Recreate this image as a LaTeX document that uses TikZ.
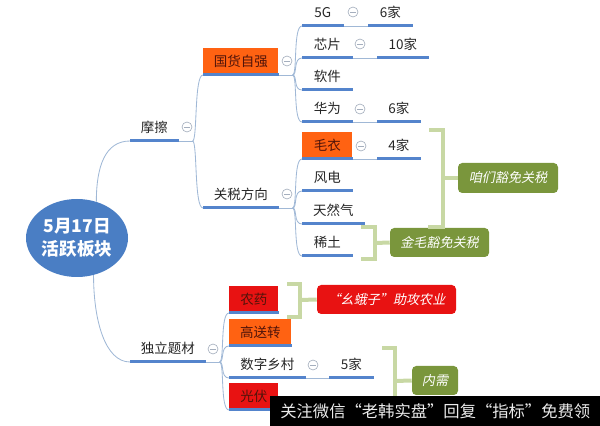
\documentclass[tikz,border=0pt]{standalone}
\usepackage{fontspec}
\setmainfont{Noto Sans CJK SC}
\newfontfamily\cjkit[FakeSlant=0.2]{Noto Sans CJK SC}
\usepackage{tikz}
\usetikzlibrary{calc,shapes.geometric}
\newcommand\pxu{0.025cm}
\definecolor{linkc}{RGB}{160,184,214}
\definecolor{ulc}{RGB}{84,132,204}
\definecolor{rootc}{RGB}{74,126,196}
\definecolor{orgc}{RGB}{255,98,18}
\definecolor{redc}{RGB}{232,18,18}
\definecolor{olvc}{RGB}{122,150,60}
\definecolor{brkc}{RGB}{200,216,164}
\definecolor{foldc}{RGB}{165,175,190}
\definecolor{boxtxt}{RGB}{80,20,10}
\tikzset{
  root/.style={ellipse, fill=rootc, text=white, align=center, inner sep=0pt,
    minimum width=102*\pxu, minimum height=78*\pxu, font=\fontsize{12.5}{16.4}\selectfont\bfseries},
  topic/.style={anchor=south west, inner sep=0pt, minimum width=#1*\pxu, minimum height=26*\pxu,
    text=black!85, font=\fontsize{9.6}{11}\selectfont},
  uline/.style={draw=ulc, line width=3*\pxu},
  link/.style={draw=linkc, line width=0.6pt},
  fold/.style={circle, draw=foldc, line width=0.45pt, fill=white, inner sep=0pt, minimum size=10*\pxu,
    path picture={\draw[foldc, line width=0.5pt] ([xshift=-2.6*\pxu]path picture bounding box.center)
      -- ([xshift=2.6*\pxu]path picture bounding box.center);}},
  callout/.style={rounded corners=3pt, inner sep=0pt, text=white, font=\cjkit\fontsize{9.3}{11}\selectfont},
  brk/.style={draw=brkc, line width=4*\pxu},
  wmark/.style={fill=black, text=black!8, inner sep=0pt, anchor=north west,
    minimum width=330*\pxu, minimum height=30*\pxu, font=\fontsize{11.6}{13}\selectfont}}

\begin{document}
\begin{tikzpicture}[x=\pxu, y=-\pxu]
  \useasboundingbox (0,0) rectangle (600,426);
  \node[root] (root) at (77,238) {5月17日\\活跃板块};
  % main topics
  \node[topic=48] (mc) at (130,141) {摩擦};
  \node[topic=75] (gs) at (203,208) {关税方向};
  \node[topic=75] (dl) at (130,362) {独立题材};
  \foreach \nm/\x/\y/\w/\txt in {g5/302/26/41/5G, n6a/368/26/44/6家, xp/302/58/50/芯片, n10/377/58/51/10家,
      rj/302/90/50/软件, hw/302/122/50/华为, n6b/377/122/43/6家, n4/377/159/43/4家, fd/302/191/50/风电,
      trq/302/224/62/天然气, xt/302/256/50/稀土, sz/229/378/76/数字乡村, n5/329/378/44/5家}
    \node[topic=\w] (\nm) at (\x,\y) {\txt};
  \foreach \nm/\x/\y/\w/\c/\txt in {gh/203/75/75/orgc/国货自强, my/302/159/50/orgc/毛衣,
      ny/229/313/49/redc/农药, gsz/229/346/62/orgc/高送转, gf/229/410/49/redc/光伏}
    \node[topic=\w, fill=\c, text=boxtxt, minimum height=27*\pxu] (\nm) at (\x,\y) {\txt};
  \foreach \n in {mc,gh,gs,dl,g5,n6a,xp,n10,rj,hw,n6b,my,n4,fd,trq,xt,ny,gsz,sz,n5,gf}
    \draw[uline] (\n.south west) -- (\n.south east);

  % links
  \draw[link] (root.62) .. controls +(0,-35) and +(-25,0) .. (mc.south west);
  \draw[link] (root.-66) .. controls +(0,45) and +(-25,0) .. (dl.south west);
  \coordinate (b1) at ($(mc.south east)+(14,0)$);
  \coordinate (b2) at ($(gh.south east)+(14,0)$);
  \coordinate (b3) at ($(gs.south east)+(14,0)$);
  \coordinate (b4) at ($(dl.south east)+(14,0)$);
  \draw[link] (mc.south east) -- (b1);
  \draw[link] (gh.south east) -- (b2);
  \draw[link] (gs.south east) -- (b3);
  \draw[link] (dl.south east) -- (b4);
  \foreach \c in {gh,gs} \draw[link] (b1) .. controls +(5,0) and +(-9,0) .. (\c.south west);
  \foreach \c in {g5,xp,rj,hw} \draw[link] (b2) .. controls +(5,0) and +(-9,0) .. (\c.south west);
  \foreach \c in {my,fd,trq,xt} \draw[link] (b3) .. controls +(5,0) and +(-9,0) .. (\c.south west);
  \foreach \c in {ny,gsz,sz,gf} \draw[link] (b4) .. controls +(5,0) and +(-9,0) .. (\c.south west);
  \foreach \a/\b in {g5/n6a, xp/n10, hw/n6b, my/n4, sz/n5}
    \draw[link] (\a.south east) -- (\b.south west);

  % fold markers
  \foreach \nm/\x/\y in {f1/187/127, f2/287/61, f3/287/194, f4/353/12, f5/360/44,
      f6/360/109, f7/361/146, f8/213/349, f9/313/365}
    \node[fold] (\nm) at (\x,\y) {};

  % summaries
  \node[callout, fill=olvc, minimum width=100*\pxu, minimum height=30*\pxu] (zm) at (508,178) {咱们豁免关税};
  \node[callout, fill=olvc, minimum width=99*\pxu, minimum height=29*\pxu] (jm) at (439.5,242.5) {金毛豁免关税};
  \node[callout, fill=redc, minimum width=139*\pxu, minimum height=29*\pxu] (ye) at (386.5,299.5) {“幺蛾子”助攻农业};
  \node[callout, fill=olvc, minimum width=46*\pxu, minimum height=29*\pxu] (nx) at (435,380.5) {内需};
  \draw[brk] (429,130) -| (443,227) -- (428,227);
  \draw[brk] (361,227) -| (375,259) -- (361,259);
  \draw[brk] (287,284) -| (300,317) -- (287,317);
  \draw[brk] (382,348) -| (395,420);
  \coordinate (k1) at (443,178);
  \coordinate (k2) at (375,243);
  \coordinate (k3) at (300,300);
  \coordinate (k4) at (395,381);
  \draw[brk] (k1) -- (zm.west);
  \draw[brk] (k2) -- (jm.west);
  \draw[brk] (k3) -- (ye.west);
  \draw[brk] (k4) -- (nx.west);

  \node[wmark] (wm) at (270,396) {关注微信“老韩实盘”回复“指标”免费领};
\end{tikzpicture}
\end{document}
